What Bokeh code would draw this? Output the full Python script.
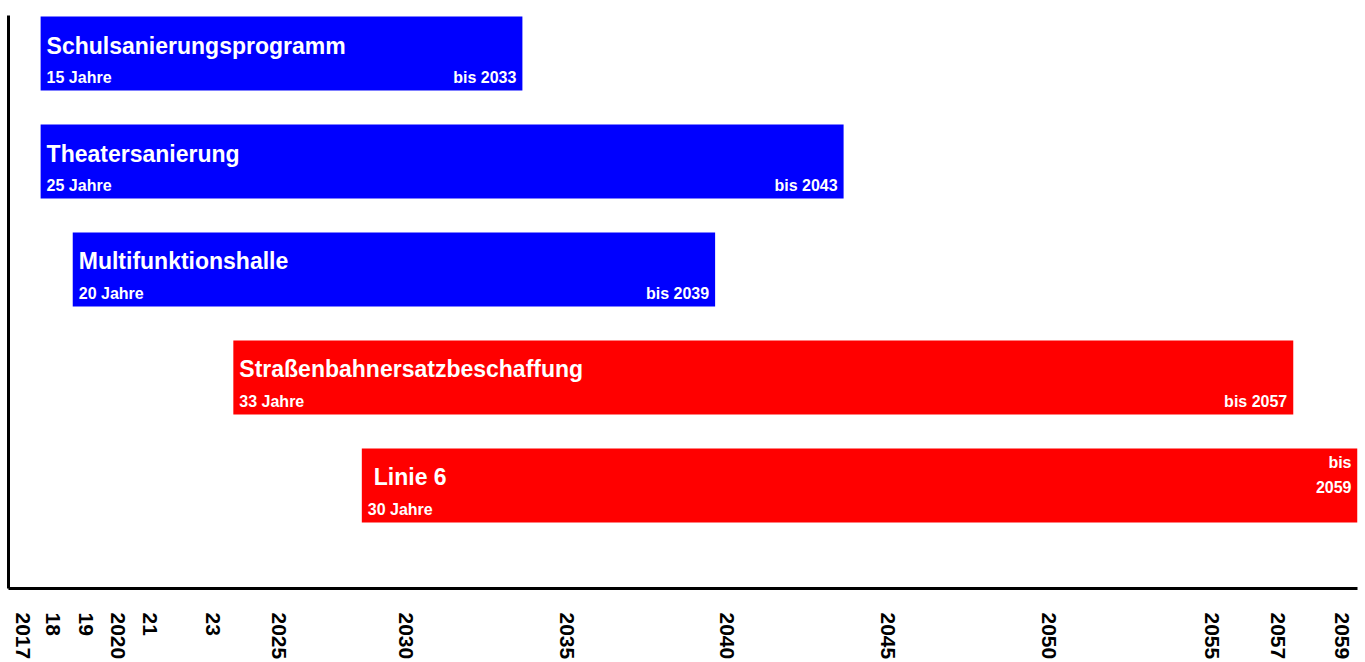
from bokeh.plotting import figure
from bokeh.models import Range1d, FixedTicker
from bokeh.core.properties import value
from bokeh.embed import file_html
from bokeh.resources import INLINE

# ---- data ----
names = ["Schulsanierungsprogramm", "Theatersanierung", "Multifunktionshalle",
         "Straßenbahnersatzbeschaffung", "Linie 6"]
start_years = [2018, 2018, 2019, 2024, 2028]
end_years = [2033, 2043, 2039, 2057, 2059]
durations = ["15 Jahre", "25 Jahre", "20 Jahre", "33 Jahre", "30 Jahre"]
end_labels = ["bis 2033", "bis 2043", "bis 2039", "bis 2057", "bis 2059"]
groups = ["Bau", "Bau", "Bau", "Verkehr", "Verkehr"]
tick_labels = ["2017", "18", "19", "2020", "21", "23", "2025", "2030", "2035",
               "2040", "2045", "2050", "2055", "2057", "2059"]
tick_positions = [2017.44, 2018.4, 2019.4, 2020.42, 2021.42, 2023.38, 2025.41, 2029.39,
                  2034.4, 2039.38, 2044.37, 2049.38, 2054.48, 2056.51, 2058.53]

# ---- styling ----
group_colors = {"Bau": "#0000FF", "Verkehr": "#FF0000"}
bar_colors = [group_colors[g] for g in groups]
idx = list(range(len(names)))
wrap_end = [False, False, False, False, True]
title_indent = [6, 6, 6, 6, 12]

FONT = value("Liberation Sans")
TITLE_SIZE = "23px"
SUB_SIZE = "16px"

p = figure(width=1365, height=662, output_backend="svg", toolbar_location=None,
           x_range=Range1d(2017, 2059), y_range=Range1d(4.954, -0.352),
           min_border_left=8, min_border_right=8, min_border_top=15, min_border_bottom=74)
p.outline_line_color = None
p.background_fill_color = "white"
p.border_fill_color = "white"
p.xgrid.visible = False
p.ygrid.visible = False

p.hbar(y=idx, left=start_years, right=end_years, height=0.685,
       fill_color=bar_colors, line_color=None)

common = dict(text_font=FONT, text_font_style="bold", text_color="white",
              text_baseline="middle")

# titles
p.text(x=start_years, y=idx, text=names, x_offset=title_indent, y_offset=-8,
       text_font_size=TITLE_SIZE, text_align="left", **common)
# durations
p.text(x=start_years, y=idx, text=durations, x_offset=6, y_offset=24,
       text_font_size=SUB_SIZE, text_align="left", **common)
# end labels
single = [i for i in idx if not wrap_end[i]]
p.text(x=[end_years[i] for i in single], y=single, text=[end_labels[i] for i in single],
       x_offset=-6, y_offset=24, text_font_size=SUB_SIZE, text_align="right", **common)
for i in idx:
    if wrap_end[i]:
        first, second = end_labels[i].split(" ", 1)
        p.text(x=[end_years[i]], y=[i], text=[first], x_offset=-6, y_offset=-23,
               text_font_size=SUB_SIZE, text_align="right", **common)
        p.text(x=[end_years[i]], y=[i], text=[second], x_offset=-6, y_offset=2,
               text_font_size=SUB_SIZE, text_align="right", **common)

# axes
xa = p.xaxis[0]
xa.ticker = FixedTicker(ticks=tick_positions)
xa.major_label_overrides = {t: l for t, l in zip(tick_positions, tick_labels)}
xa.major_label_orientation = "vertical"
xa.major_label_text_font = "Liberation Sans"
xa.major_label_text_font_style = "bold"
xa.major_label_text_font_size = "21px"
xa.major_label_text_color = "black"
xa.major_tick_out = 0
xa.major_tick_in = 0
xa.minor_tick_out = 0
xa.minor_tick_in = 0
xa.major_label_standoff = 24
xa.axis_line_width = 3
xa.axis_line_color = "black"

ya = p.yaxis[0]
ya.ticker = FixedTicker(ticks=[])
ya.major_tick_out = 0
ya.major_tick_in = 0
ya.minor_tick_out = 0
ya.minor_tick_in = 0
ya.major_label_standoff = 0
ya.axis_line_width = 3
ya.axis_line_color = "black"

open("out.html", "w").write(file_html(p, INLINE))
